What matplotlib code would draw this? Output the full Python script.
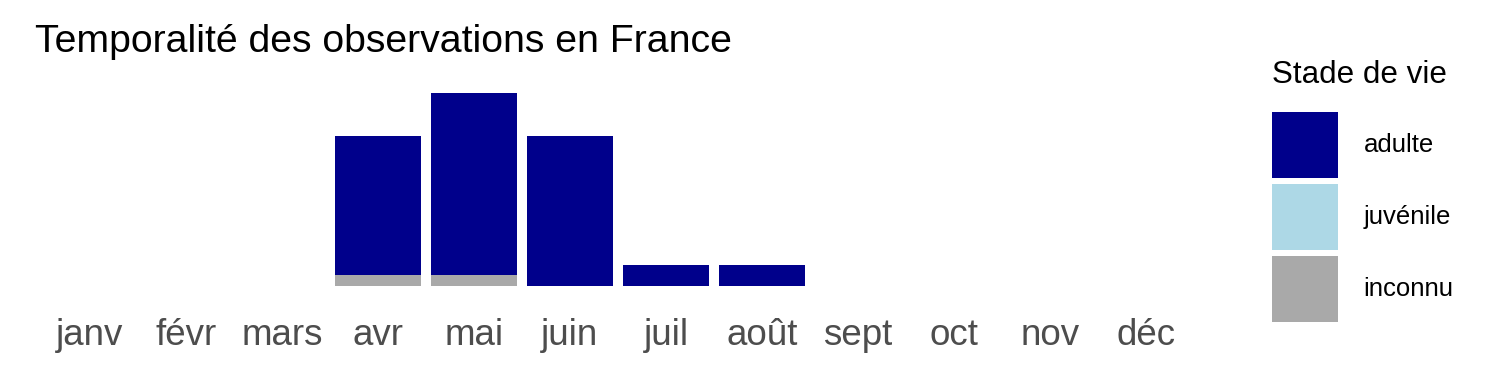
import numpy as np
import matplotlib.pyplot as plt

# --- Données ---
mois = ['janv', 'févr', 'mars', 'avr', 'mai', 'juin',
        'juil', 'août', 'sept', 'oct', 'nov', 'déc']
adulte = [0, 0, 0, 13, 17, 14, 2, 2, 0, 0, 0, 0]
juvenile = [0, 0, 0, 0, 0, 0, 0, 0, 0, 0, 0, 0]
inconnu = [0, 0, 0, 1, 1, 0, 0, 0, 0, 0, 0, 0]

couleurs = {'adulte': '#00008B', 'juvénile': '#ADD8E6', 'inconnu': '#A9A9A9'}

plt.rcParams['font.family'] = ['Liberation Sans', 'DejaVu Sans']

fig = plt.figure(figsize=(15, 3.75), dpi=100)
ax = fig.add_axes([32.4 / 1500, 1 - 295.6 / 375, (1203.6 - 32.4) / 1500, (295.6 - 83.4) / 375])

x = np.arange(len(mois))
adulte = np.array(adulte)
juvenile = np.array(juvenile)
inconnu = np.array(inconnu)

# empilement façon ggplot : inconnu en bas, adulte en haut
b_inc = ax.bar(x, inconnu, width=0.9, color=couleurs['inconnu'], label='inconnu')
b_juv = ax.bar(x, juvenile, width=0.9, bottom=inconnu, color=couleurs['juvénile'], label='juvénile')
b_adu = ax.bar(x, adulte, width=0.9, bottom=inconnu + juvenile, color=couleurs['adulte'], label='adulte')

total = adulte + juvenile + inconnu
ax.set_xlim(-0.6, len(mois) - 1 + 0.6)
ax.set_ylim(-0.05 * total.max(), total.max() * 1.05)

ax.set_xticks(x)
ax.set_xticklabels(mois, fontsize=26.5, color='#4D4D4D')
ax.tick_params(axis='x', length=0, pad=16)
ax.set_yticks([])
for s in ax.spines.values():
    s.set_visible(False)

fig.text(35 / 1500, 1 - 52 / 375, 'Temporalité des observations en France',
         fontsize=28.3, color='black', ha='left', va='baseline')

leg = fig.legend(handles=[b_adu, b_juv, b_inc], labels=['adulte', 'juvénile', 'inconnu'],
                 loc='upper left', bbox_to_anchor=(1272 / 1500, 1 - 60 / 375),
                 frameon=False, fontsize=18.5, title='Stade de vie', title_fontsize=22.6,
                 handlelength=2.57, handleheight=3.58, labelspacing=0.23, handletextpad=1.0,
                 borderaxespad=0, borderpad=0)
leg._legend_box.align = 'left'
leg._legend_box.sep = 16

fig.savefig('out.png', dpi=100)
